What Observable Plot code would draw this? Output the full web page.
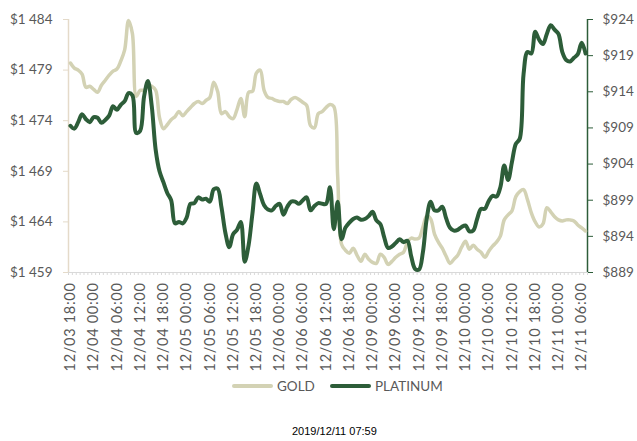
<!DOCTYPE html>
<html><head><meta charset="utf-8">
<script src="https://cdn.jsdelivr.net/npm/d3@7"></script>
<script src="https://cdn.jsdelivr.net/npm/@observablehq/plot@0.6"></script>
<style>
body{margin:0;background:#fff;width:637px;height:441px;position:relative;overflow:hidden;font-family:Lato,"Open Sans",sans-serif}
#chart{position:absolute;left:0;top:0}
#chart g[aria-label="x-axis tick label"]{letter-spacing:0.7px}
.lg{position:absolute;top:377px;height:18px;display:flex;align-items:center;font-size:13.5px;color:#595959}
.sw{width:41px;height:4px;border-radius:2px;margin-right:4px}
#caption{position:absolute;top:425px;left:292px;white-space:nowrap;font-family:"Liberation Sans",Arial,sans-serif;font-size:11px;color:#000}
</style></head><body>
<div id="chart"></div>
<div class="lg" style="left:232px"><div class="sw" id="swG"></div><span>GOLD</span></div>
<div class="lg" style="left:330px"><div class="sw" id="swP"></div><span>PLATINUM</span></div>
<div id="caption">2019/12/11 07:59</div>
<script>
const tickLabels = ["12/03 18:00","12/04 00:00","12/04 06:00","12/04 12:00","12/04 18:00","12/05 00:00","12/05 06:00","12/05 12:00","12/05 18:00","12/06 00:00","12/06 06:00","12/06 12:00","12/06 18:00","12/09 00:00","12/09 06:00","12/09 12:00","12/09 18:00","12/10 00:00","12/10 06:00","12/10 12:00","12/10 18:00","12/11 00:00","12/11 06:00"];
const seriesNames = ["GOLD","PLATINUM"];
const gold = [1479.7,1479.2,1479.0,1478.6,1477.3,1477.4,1477.1,1476.8,1477.5,1478.0,
1478.5,1478.9,1479.1,1479.9,1481.0,1483.9,1482.6,1476.4,1477.0,1477.0,
1477.5,1477.4,1477.0,1474.3,1473.2,1473.6,1474.1,1474.4,1474.9,1474.5,
1474.9,1475.3,1475.7,1475.9,1475.7,1476.0,1476.3,1477.8,1476.9,1474.7,
1474.9,1474.4,1474.2,1475.1,1476.2,1474.4,1476.8,1476.9,1478.7,1479.0,
1477.0,1476.3,1476.2,1476.0,1475.9,1475.9,1475.7,1476.1,1476.3,1476.1,
1475.8,1475.5,1473.5,1473.3,1474.7,1474.9,1475.3,1475.6,1475.4,1468.5,
1461.8,1461.2,1460.9,1461.4,1460.7,1460.1,1460.8,1460.3,1460.0,1459.9,
1460.8,1460.5,1459.8,1460.1,1460.5,1460.8,1461.0,1462.0,1462.4,1462.3,
1462.4,1463.5,1464.6,1464.3,1462.8,1462.0,1461.4,1460.6,1459.9,1460.3,
1460.7,1461.5,1462.1,1461.3,1461.7,1461.3,1461.0,1460.5,1461.1,1461.6,
1462.0,1462.6,1464.2,1464.7,1465.1,1466.5,1467.0,1467.2,1466.2,1464.9,
1464.0,1463.5,1463.8,1465.4,1465.0,1464.5,1464.2,1464.1,1464.2,1464.2,
1464.1,1463.7,1463.4,1463.1];
const platinum = [909.3,908.9,909.8,910.9,910.2,909.8,910.5,910.4,909.7,910.1,
910.7,912.0,911.5,912.2,912.7,913.8,913.5,908.3,908.6,913.3,
915.5,912.0,906.0,903.0,901.5,900.0,899.0,895.8,896.0,895.8,
896.6,898.5,898.6,899.4,899.1,899.2,898.8,900.5,900.6,898.0,
894.5,892.5,894.3,894.9,896.0,890.5,892.8,897.2,901.3,899.8,
898.3,897.7,897.6,898.2,898.5,897.0,898.1,898.8,898.8,898.5,
899.0,899.4,897.6,898.2,898.6,898.5,898.5,900.8,895.0,898.8,
893.6,895.2,895.9,896.4,896.6,896.3,896.4,896.8,897.4,896.2,
895.7,893.9,892.4,892.6,893.1,893.6,893.2,893.4,891.2,889.5,
889.4,891.8,896.5,898.8,897.6,897.6,898.1,896.5,895.2,894.8,
894.9,895.3,895.5,894.7,894.8,896.4,897.8,897.8,898.9,899.6,
899.5,900.8,903.8,901.8,904.3,906.8,907.5,916.5,919.5,919.3,
922.3,921.2,920.6,922.0,923.2,922.6,922.0,919.5,918.4,918.2,
918.7,919.2,920.8,919.3];
const goldTicks = [1459,1464,1469,1474,1479,1484];
const platinumTicks = [889,894,899,904,909,914,919,924];

const GOLD_C = "#d3d2b4", PLAT_C = "#2d5d39", AXIS_L = "#e4dac9", GRID_B = "#d9d9d9";
document.getElementById("swG").style.background = GOLD_C;
document.getElementById("swP").style.background = PLAT_C;

const n = gold.length;
const rows = gold.map((g, i) => ({i, gold: g, platinum: platinum[i]}));
const gMin = goldTicks[0], gMax = goldTicks[goldTicks.length - 1];
const pMin = platinumTicks[0], pMax = platinumTicks[platinumTicks.length - 1];
const pToG = p => gMin + (p - pMin) * (gMax - gMin) / (pMax - pMin);
const gToP = g => pMin + (g - gMin) * (pMax - pMin) / (gMax - gMin);
const fmt = v => {
  v = Math.round(v);
  return "$" + (v >= 1000 ? Math.floor(v / 1000) + " " + String(v % 1000).padStart(3, "0") : v);
};
const labelIdx = tickLabels.map((_, k) => k * 6);
const bounds = d3.range(n + 1).map(k => k - 0.5);

const chart = Plot.plot({
  width: 637, height: 372,
  marginLeft: 68, marginRight: 50, marginTop: 19, marginBottom: 100,
  style: {fontFamily: "Lato, 'Open Sans', sans-serif", fontSize: "13px", color: "#595959", background: "transparent"},
  x: {type: "linear", domain: [-0.5, n - 0.5]},
  y: {domain: [gMin, gMax]},
  marks: [
    Plot.ruleY([gMin], {stroke: GRID_B}),
    Plot.axisX(bounds, {tickSize: 3, stroke: GRID_B, tickFormat: () => "", label: null}),
    Plot.axisX(labelIdx, {tickSize: 0, tickRotate: -90, tickPadding: 10, tickFormat: d => tickLabels[d / 6], fontSize: 14.5, fill: "#595959", label: null}),
    Plot.ruleX([-0.5], {y1: gMin, y2: gMax, stroke: AXIS_L, strokeWidth: 1.5}),
    Plot.ruleX([n - 0.5], {y1: gMin, y2: gMax, stroke: PLAT_C, strokeWidth: 1.5}),
    Plot.axisY(goldTicks, {anchor: "left", tickSize: 5, stroke: AXIS_L, tickPadding: 11, tickFormat: fmt, fontSize: 13.5, fill: "#595959", label: null}),
    Plot.axisY(platinumTicks.map(pToG), {anchor: "right", tickSize: 5, stroke: PLAT_C, tickPadding: 10, tickFormat: g => fmt(gToP(g)), fontSize: 13.5, fill: "#595959", label: null}),
    Plot.lineY(rows, {x: "i", y: "gold", stroke: GOLD_C, strokeWidth: 3.5, curve: "catmull-rom", strokeLinejoin: "round", strokeLinecap: "round"}),
    Plot.lineY(rows, {x: "i", y: d => pToG(d.platinum), stroke: PLAT_C, strokeWidth: 4, curve: "catmull-rom", strokeLinejoin: "round", strokeLinecap: "round"})
  ]
});
document.getElementById("chart").appendChild(chart);
</script>
</body></html>
